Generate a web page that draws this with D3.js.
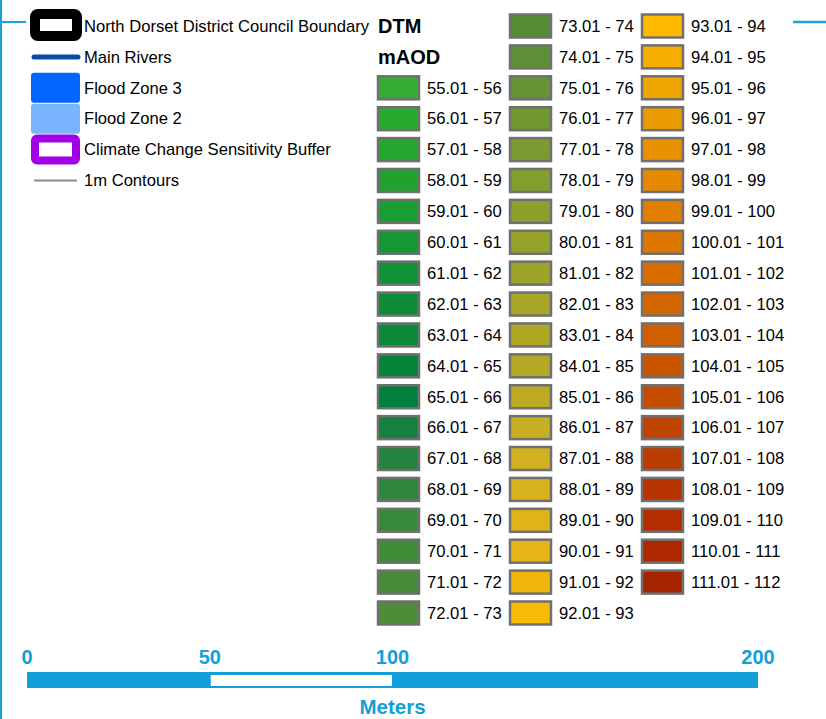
<!DOCTYPE html>
<html>
<head>
<meta charset="utf-8">
<script src="https://cdn.jsdelivr.net/npm/d3@7"></script>
<style>
  body { margin: 0; background: #fff; }
  svg { display: block; }
  text { font-family: "Liberation Sans", Arial, sans-serif; }
</style>
</head>
<body>
<svg id="map" width="826" height="719"></svg>
<script>
// legend items on the left
const layerNames = ["North Dorset District Council Boundary", "Main Rivers", "Flood Zone 3",
    "Flood Zone 2", "Climate Change Sensitivity Buffer", "1m Contours"];
const layerKinds = ["boundary", "river", "fill", "fill", "buffer", "line"];
const layerColors = ["#000000", "#0a4da3", "#0066ff", "#79b5ff", "#a100e6", "#8c8c8c"];

// DTM classes (mAOD)
const dtmLabels = [
    "55.01 - 56", "56.01 - 57", "57.01 - 58", "58.01 - 59", "59.01 - 60", "60.01 - 61",
    "61.01 - 62", "62.01 - 63", "63.01 - 64", "64.01 - 65", "65.01 - 66", "66.01 - 67",
    "67.01 - 68", "68.01 - 69", "69.01 - 70", "70.01 - 71", "71.01 - 72", "72.01 - 73",
    "73.01 - 74", "74.01 - 75", "75.01 - 76", "76.01 - 77", "77.01 - 78", "78.01 - 79",
    "79.01 - 80", "80.01 - 81", "81.01 - 82", "82.01 - 83", "83.01 - 84", "84.01 - 85",
    "85.01 - 86", "86.01 - 87", "87.01 - 88", "88.01 - 89", "89.01 - 90", "90.01 - 91",
    "91.01 - 92", "92.01 - 93", "93.01 - 94", "94.01 - 95", "95.01 - 96", "96.01 - 97",
    "97.01 - 98", "98.01 - 99", "99.01 - 100", "100.01 - 101", "101.01 - 102", "102.01 - 103",
    "103.01 - 104", "104.01 - 105", "105.01 - 106", "106.01 - 107", "107.01 - 108", "108.01 - 109",
    "109.01 - 110", "110.01 - 111", "111.01 - 112"];
const dtmColors = [
    "#33ad33", "#2aa930", "#23a52e", "#20a130", "#1a9d32", "#159735",
    "#129237", "#0e8d38", "#0a893a", "#05843c", "#007f3f", "#15813f",
    "#24843e", "#2e873c", "#368a3a", "#3e8b38", "#468c38", "#4e8c37",
    "#568c36", "#5e8e35", "#679334", "#709732", "#7a9b30", "#839d2e",
    "#8ca02c", "#94a22a", "#9ea428", "#a6a727", "#aea826", "#b4a925",
    "#bdac23", "#c8af21", "#d1b11f", "#d8b11e", "#dfb31a", "#e7b515",
    "#efb70e", "#f9ba05", "#ffba00", "#f8ae00", "#f1a500", "#ec9b00",
    "#e89200", "#e58a00", "#e17f00", "#dc7700", "#d86e00", "#d26600",
    "#cf5f00", "#c95500", "#c44d00", "#bf4400", "#bb3c00", "#b73500",
    "#b22e00", "#ad2700", "#a52400"];
const columnCounts = [18, 20, 19];
const columnStartRow = [2, 0, 0];

// scale bar
const scaleTicks = [0, 50, 100, 200];
const scaleSegments = [[0, 50, "blue"], [50, 100, "white"], [100, 200, "blue"]];
const scaleUnit = "Meters";

const svg = d3.select("#map");
const frameBlue = "#1ea0dc";
const barBlue = "#129fd9";

// frame pieces
svg.append("line").attr("x1", 1).attr("x2", 1).attr("y1", 0).attr("y2", 719)
    .attr("stroke", frameBlue).attr("stroke-width", 2);
svg.append("line").attr("x1", 0).attr("x2", 26).attr("y1", 22).attr("y2", 22)
    .attr("stroke", frameBlue).attr("stroke-width", 2);
svg.append("line").attr("x1", 793).attr("x2", 826).attr("y1", 22).attr("y2", 22)
    .attr("stroke", frameBlue).attr("stroke-width", 2.5);

let rowY = d3.scaleLinear().domain([0, 19]).range([26, 613]);

// left legend
let layers = svg.append("g").selectAll("g").data(layerNames).enter().append("g")
    .attr("transform", (d, i) => "translate(0," + rowY(i) + ")");
layers.each(function (d, i) {
    let g = d3.select(this);
    let kind = layerKinds[i], col = layerColors[i];
    if (kind === "boundary") {
        g.append("rect").attr("x", 35).attr("y", -12).attr("width", 42).attr("height", 22)
            .attr("rx", 3).attr("fill", "#fff").attr("stroke", col).attr("stroke-width", 10);
    } else if (kind === "river") {
        g.append("line").attr("x1", 34).attr("x2", 78).attr("y1", 0).attr("y2", 0)
            .attr("stroke", col).attr("stroke-width", 5).attr("stroke-linecap", "round");
    } else if (kind === "fill") {
        g.append("rect").attr("x", 31).attr("y", -15).attr("width", 49).attr("height", 30)
            .attr("rx", 3).attr("fill", col);
    } else if (kind === "buffer") {
        g.append("rect").attr("x", 35).attr("y", -11).attr("width", 41).attr("height", 22)
            .attr("rx", 2).attr("fill", "#fff").attr("stroke", col).attr("stroke-width", 8);
    } else {
        g.append("line").attr("x1", 34).attr("x2", 77).attr("y1", 0).attr("y2", 0)
            .attr("stroke", col).attr("stroke-width", 2);
    }
    g.append("text").attr("x", 84).attr("y", 0).attr("dy", "0.35em")
        .attr("font-size", 16.6).attr("fill", "#000").text(d);
});

// DTM titles
svg.append("text").attr("x", 378).attr("y", rowY(0)).attr("dy", "0.35em")
    .attr("font-size", 20).attr("font-weight", "bold").text("DTM");
svg.append("text").attr("x", 378).attr("y", rowY(1)).attr("dy", "0.35em")
    .attr("font-size", 20).attr("font-weight", "bold").text("mAOD");

// DTM classes, flowing down three columns
let colX = [377, 509, 641];
let classes = dtmLabels.map((label, i) => {
    let c = 0, start = 0;
    while (i >= start + columnCounts[c]) { start += columnCounts[c]; c++; }
    return {label: label, color: dtmColors[i], col: c, row: columnStartRow[c] + i - start};
});
let cls = svg.append("g").selectAll("g").data(classes).enter().append("g")
    .attr("transform", d => "translate(" + colX[d.col] + "," + rowY(d.row) + ")");
cls.append("rect").attr("x", 1).attr("y", -11.5).attr("width", 41).attr("height", 23)
    .attr("fill", d => d.color).attr("stroke", "#707070").attr("stroke-width", 2.5);
cls.append("text").attr("x", 50).attr("y", 0).attr("dy", "0.35em")
    .attr("font-size", 16.6).attr("fill", "#000").text(d => d.label);

// scale bar
let xScale = d3.scaleLinear().domain([0, 200]).range([27, 758]);
let bar = svg.append("g");
bar.append("rect").attr("x", xScale(0)).attr("y", 672).attr("width", xScale(200) - xScale(0))
    .attr("height", 16).attr("rx", 1).attr("fill", barBlue);
bar.selectAll("rect.seg").data(scaleSegments.filter(d => d[2] === "white")).enter().append("rect")
    .attr("class", "seg")
    .attr("x", d => xScale(d[0]) + 1).attr("width", d => xScale(d[1]) - xScale(d[0]) - 1.5)
    .attr("y", 675).attr("height", 11).attr("fill", "#fff");
bar.selectAll("text.tick").data(scaleTicks).enter().append("text").attr("class", "tick")
    .attr("x", d => xScale(d)).attr("y", 663.5).attr("text-anchor", "middle")
    .attr("font-size", 20).attr("font-weight", "bold").attr("fill", barBlue)
    .text(d => d);
bar.append("text").attr("x", xScale(100)).attr("y", 713.5).attr("text-anchor", "middle")
    .attr("font-size", 20.5).attr("font-weight", "bold").attr("fill", barBlue)
    .text(scaleUnit);
</script>
</body>
</html>
